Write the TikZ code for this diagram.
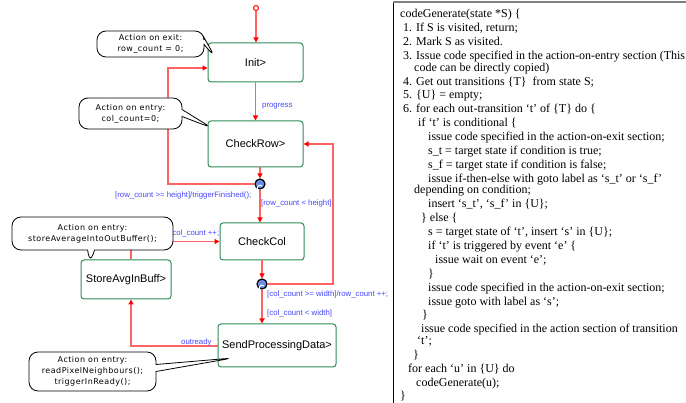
\documentclass[tikz,border=0pt]{standalone}
\usepackage{fontspec}
\setmainfont{Liberation Serif}
\newfontfamily\arialf{Liberation Sans}
\newfontfamily\comicf[LetterSpace=6]{DejaVu Sans}
\usetikzlibrary{arrows.meta,shapes.callouts}
\definecolor{stgreen}{RGB}{46,139,87}
\definecolor{trred}{RGB}{255,100,100}
\definecolor{lblblue}{RGB}{70,70,255}
\definecolor{chfill}{RGB}{110,140,230}
\newcommand\codeln[4]{\node[codetxt] (#1) at (#2,#3) {#4};}
\begin{document}
\begin{tikzpicture}[x=1pt,y=-1pt,
  state/.style={draw=stgreen, line width=1pt, rounded corners=3pt, fill=white, font=\arialf\fontsize{11}{13}\selectfont, inner sep=0pt},
  tr/.style={draw=trred, line width=1.2pt, -{Triangle[length=5pt,width=5pt,color=red]}},
  lbl/.style={text=lblblue, font=\arialf\fontsize{7.8}{9}\selectfont, inner sep=0pt},
  bubble/.style={rectangle callout, draw=black, fill=white, line width=0.8pt, rounded corners=9pt, font=\comicf\fontsize{8}{11}\selectfont, align=center, inner sep=0pt, callout pointer width=7pt},
  choice/.style={circle, draw=black, line width=1.2pt, fill=chfill, minimum size=10pt, inner sep=0pt},
  codetxt/.style={anchor=base west, inner sep=0pt, font=\fontsize{12}{13}\selectfont},
]
\useasboundingbox (0,0) rectangle (686,403);

% states
\node[state, minimum width=95pt, minimum height=39pt] (init) at (255.5,62.5) {Init>};
\node[state, minimum width=95pt, minimum height=46pt] (checkrow) at (255.5,144) {CheckRow>};
\node[state, minimum width=84pt, minimum height=37pt] (checkcol) at (262,241.5) {CheckCol};
\node[state, minimum width=90pt, minimum height=39pt] (store) at (126,279.5) {StoreAvgInBuff>};
\node[state, minimum width=118pt, minimum height=43pt] (send) at (277,345.5) {SendProcessingData>};

% pseudo states
\node[circle, draw=red, fill=white, line width=1pt, minimum size=5pt, inner sep=0pt] (start) at (256,8) {};
\node[choice] (ch1) at (260,184) {};
\node[choice] (ch2) at (262,284) {};
\draw[white, line width=1pt] ([xshift=2pt,yshift=-2pt]ch1.center) arc (45:315:2.8pt);
\draw[white, line width=1pt] ([xshift=2pt,yshift=-2pt]ch2.center) arc (45:315:2.8pt);

% transitions
\draw[tr] (start.south) -- (init.north -| start);
\draw[tr] (init) -- (checkrow);
\draw[tr] (checkrow.south -| ch1) -- (ch1.north);
\draw[tr] (ch1.south) -- (checkcol.north -| ch1);
\draw[tr] (ch1.west) -- (168,184) |- (init.west |- 0,68);
\draw[tr] (checkcol.south -| ch2) -- (ch2.north);
\draw[tr] (ch2.east) -- (333,284) |- (checkrow.east);
\draw[tr] (ch2.south) -- (send.north -| ch2);
\draw[tr] (send.west |- 0,346) -| (store.south -| 131,0);
\draw[tr] (store.north -| 131,0) |- (checkcol.west);

% labels
\node[lbl, anchor=west] (lprog) at (262,106) {progress};
\node[lbl, anchor=west] (lrowge) at (115,195) {[row\_count >= height]/triggerFinished();};
\node[lbl, anchor=west] (lrowlt) at (261,203) {[row\_count < height]};
\node[lbl, anchor=west] (lcolpp) at (170,233) {/col\_count ++;};
\node[lbl, anchor=west] (lcolge) at (267,294) {[col\_count >= width]/row\_count ++;};
\node[lbl, anchor=west] (lcollt) at (267,313) {[col\_count < width]};
\node[lbl, anchor=west] (lout) at (181,342) {outready};

% callouts
\coordinate (tip1) at (215,57);
\coordinate (tip2) at (212,128);
\coordinate (tip3) at (90,263);
\coordinate (tip4) at (233,358);
\node[bubble, minimum width=107pt, minimum height=26pt, callout absolute pointer={(tip1)}] (b1) at (150.5,44) {Action on exit:\\row\_count = 0;};
\node[bubble, minimum width=103pt, minimum height=31pt, callout absolute pointer={(tip2)}] (b2) at (130.5,113.5) {Action on entry:\\col\_count=0;};
\node[bubble, minimum width=161pt, minimum height=33pt, callout absolute pointer={(tip3)}] (b3) at (92.5,233.5) {Action on entry:\\storeAverageIntoOutBuffer();};
\node[bubble, minimum width=127pt, minimum height=39pt, callout absolute pointer={(tip4)}] (b4) at (92.5,371.5) {Action on entry:\\readPixelNeighbours();\\triggerInReady();};

% code panel
\draw[black, line width=1pt] (393,2) -- (393,403);
\draw[gray, line width=1.5pt] (393,2) -- (686,2);
\codeln{l1}{400}{18}{codeGenerate(state *S) \{}
\codeln{l2}{403}{31.9}{1. If S is visited, return;}
\codeln{l3}{403}{45.8}{2. Mark S as visited.}
\codeln{l4}{403}{59.7}{3. Issue code specified in the action-on-entry section (This}
\codeln{l5}{414}{71.2}{code can be directly copied)}
\codeln{l6}{403}{85.1}{4. Get out transitions \{T\}~ from state S;}
\codeln{l7}{403}{99}{5. \{U\} = empty;}
\codeln{l8}{403}{112.9}{6. for each out-transition ‘t’ of \{T\} do \{}
\codeln{l9}{418}{126.8}{if ‘t’ is conditional \{}
\codeln{l10}{428}{140.7}{issue code specified in the action-on-exit section;}
\codeln{l11}{428}{154.6}{s\_t = target state if condition is true;}
\codeln{l12}{428}{168.5}{s\_f = target state if condition is false;}
\codeln{l13}{428}{182.4}{issue if-then-else with goto label as ‘s\_t’ or ‘s\_f’}
\codeln{l14}{414}{193.9}{depending on condition;}
\codeln{l15}{428}{207.8}{insert ‘s\_t’, ‘s\_f’ in \{U\};}
\codeln{l16}{421}{221.7}{\} else \{}
\codeln{l17}{428}{235.6}{s = target state of ‘t’, insert ‘s’ in \{U\};}
\codeln{l18}{428}{249.5}{if ‘t’ is triggered by event ‘e’ \{}
\codeln{l19}{435}{263.4}{issue wait on event ‘e’;}
\codeln{l20}{428}{277.3}{\}}
\codeln{l21}{428}{291.2}{issue code specified in the action-on-exit section;}
\codeln{l22}{428}{305.1}{issue goto with label as ‘s’;}
\codeln{l23}{422}{319}{\}}
\codeln{l24}{421}{332.9}{issue code specified in the action section of transition}
\codeln{l25}{417}{344.4}{‘t’;}
\codeln{l26}{413}{358.3}{\}}
\codeln{l27}{408}{372.2}{for each ‘u’ in \{U\} do}
\codeln{l28}{416}{386.1}{codeGenerate(u);}
\codeln{l29}{400}{400}{\}}
\end{tikzpicture}
\end{document}
